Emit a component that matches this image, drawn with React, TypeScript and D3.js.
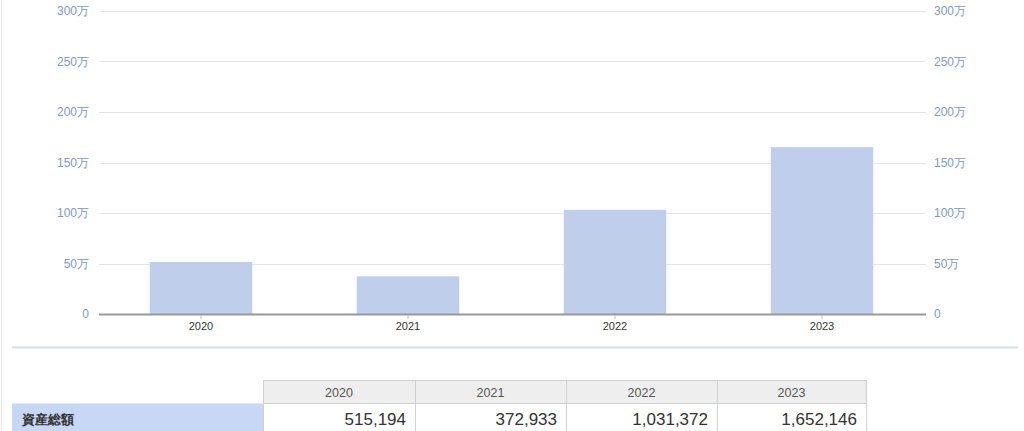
import React from "react";
import * as d3 from "d3";

const years = ["2020", "2021", "2022", "2023"];
const assets = [515194, 372933, 1031372, 1652146];
const yTicks = [0, 500000, 1000000, 1500000, 2000000, 2500000, 3000000];
const rowLabel = "資産総額";

const W = 1024;
const H = 431;
const left = 99;
const right = 926;
const top = 11;
const bottom = 314;

export default function App() {
  const x = d3.scaleBand<string>().domain(years).range([left - 1, right - 1]).paddingInner(0.505).paddingOuter(0.25);
  const y = d3.scaleLinear().domain([0, 3000000]).range([bottom, top]);
  const fmtTick = (v: number) => (v === 0 ? "0" : `${v / 10000}万`);
  const fmtNum = d3.format(",");
  const font = "'Liberation Sans', Arial, sans-serif";

  const colX = [263, 415, 566, 717, 866];
  const headTop = 380;
  const headBot = 403;
  const rowBot = 436;

  return (
    <svg
      width={W}
      height={H}
      style={{ position: "absolute", left: 0, top: 0, display: "block" }}
      fontFamily={font}
    >
      <rect width={W} height={H} fill="#fff" />
      <line x1={1.5} x2={1.5} y1={0} y2={H} stroke="#dde3ee" strokeWidth={1} />
      {yTicks.map((t) => (
        <g key={t}>
          {t !== 0 && (
            <line x1={left} x2={right} y1={Math.round(y(t)) + 0.5} y2={Math.round(y(t)) + 0.5} stroke="#e4e4e4" strokeWidth={1} />
          )}
          <text x={89} y={y(t)} dy="0.35em" textAnchor="end" fontSize={12} fill="#8297c6">
            {fmtTick(t)}
          </text>
          <text x={934} y={y(t)} dy="0.35em" textAnchor="start" fontSize={12} fill="#8297c6">
            {fmtTick(t)}
          </text>
        </g>
      ))}
      {years.map((yr, i) => (
        <rect
          key={yr}
          x={x(yr)!}
          y={y(assets[i])}
          width={x.bandwidth()}
          height={bottom - y(assets[i])}
          fill="#bfcfeb"
        />
      ))}
      <line x1={left} x2={right} y1={bottom + 0.5} y2={bottom + 0.5} stroke="#999" strokeWidth={2} />
      {years.map((yr) => (
        <g key={yr}>
          <line x1={x(yr)! + x.bandwidth() / 2} x2={x(yr)! + x.bandwidth() / 2} y1={bottom + 1} y2={bottom + 5} stroke="#bbb" />
          <text x={x(yr)! + x.bandwidth() / 2} y={326} dy="0.35em" textAnchor="middle" fontSize={11} fill="#333">
            {yr}
          </text>
        </g>
      ))}
      <line x1={12} x2={1018} y1={347.5} y2={347.5} stroke="#d3dfee" strokeWidth={2} />

      {/* table header */}
      {years.map((yr, i) => (
        <g key={"h" + yr}>
          <rect x={colX[i] + 0.5} y={headTop + 0.5} width={colX[i + 1] - colX[i]} height={headBot - headTop} fill="#eeeeee" stroke="#d0d0d0" />
          <text x={(colX[i] + colX[i + 1]) / 2} y={(headTop + headBot) / 2 + 1} dy="0.35em" textAnchor="middle" fontSize={12.5} fill="#555">
            {yr}
          </text>
        </g>
      ))}
      {/* data row */}
      <rect x={12} y={headBot + 0.5} width={colX[0] - 12 + 0.5} height={rowBot - headBot} fill="#c6d8f6" />
      <text x={22} y={419} dy="0.35em" fontSize={13} fontWeight="bold" fill="#333">
        {rowLabel}
      </text>
      {years.map((yr, i) => (
        <g key={"d" + yr}>
          <rect x={colX[i] + 0.5} y={headBot + 0.5} width={colX[i + 1] - colX[i]} height={rowBot - headBot} fill="#fff" stroke="#d0d0d0" />
          <text x={colX[i + 1] - 9} y={419} dy="0.35em" textAnchor="end" fontSize={17} fill="#333">
            {fmtNum(assets[i])}
          </text>
        </g>
      ))}
    </svg>
  );
}
